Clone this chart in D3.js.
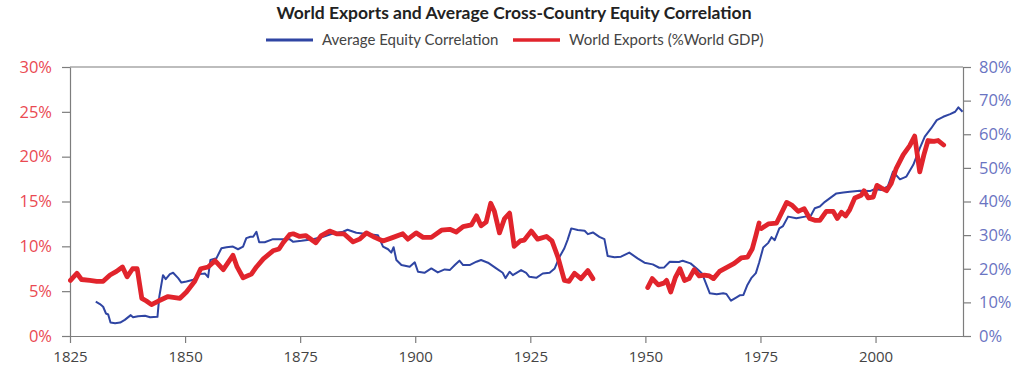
<!DOCTYPE html>
<html>
<head>
<meta charset="utf-8">
<script src="https://cdn.jsdelivr.net/npm/d3@7"></script>
<style>
  body { margin: 0; background: #fff; }
  svg { display: block; }
</style>
</head>
<body>
<svg></svg>
<script>
// World exports, % of world GDP (left axis); null = break in the line
let exportYears = [
  1825.1, 1826.5, 1827.5, 1829.3, 1830.8, 1832.2, 1833.7, 1835.1, 1836.4, 1837.4,
  1838.6, 1839.6, 1840.6, 1841.6, 1842.7, 1844.2, 1846.3, 1848.9, 1850.3, 1852.1,
  1853.4, 1855, 1856.5, 1858.3, 1860.4, 1861.3, 1862.6, 1864.4, 1865.5, 1867,
  1869.1, 1870.4, 1871.3, 1872.7, 1873.5, 1874.9, 1876.2, 1878.4, 1879.6, 1881.4,
  1882.9, 1884.5, 1886.5, 1887.9, 1889.4, 1891.2, 1893, 1895.2, 1897.3, 1898.4,
  1900.2, 1901.7, 1903.5, 1905.7, 1907.5, 1908.9, 1910.4, 1912.2, 1913.3, 1914.3,
  1915.4, 1916.4, 1917.2, 1918.3, 1919.4, 1920.5, 1921.5, 1922.8, 1923.7, 1925.2,
  1926.6, 1928.5, 1929.7, 1931, 1932.4, 1933.4, 1934.6, 1936, 1937.5, 1938.6,
  1944,
  1950.5, 1951.5, 1952.8, 1954, 1954.6, 1955.5, 1956.5, 1957.5, 1958.5, 1959.5,
  1960.6, 1961.7, 1962.8, 1963.9, 1964.8, 1966.1, 1967.9, 1969.3, 1970.8, 1972.2,
  1973.2, 1974, 1974.7,
  1974.95,
  1975.2, 1976.7, 1978.5, 1980.7, 1981.8, 1983.2, 1984.5, 1985.7, 1986.8, 1987.9,
  1989.3, 1990.8, 1991.7, 1992.6, 1993.5, 1994.4, 1995.5, 1996.9, 1997.5, 1998.4,
  1999.5, 2000.3, 2001.3, 2002.4, 2003.4, 2004.5, 2006, 2007.4, 2008.5, 2009.6,
  2010.5, 2011.4, 2012.7, 2013.6, 2014.8
];
let exportValues = [
  6.2, 7.0, 6.3, 6.2, 6.1, 6.1, 6.8, 7.2, 7.7, 6.6,
  7.5, 7.5, 4.2, 3.9, 3.5, 3.9, 4.4, 4.2, 4.9, 6.1,
  7.5, 7.7, 8.4, 7.4, 9.0, 7.7, 6.5, 6.9, 7.7, 8.6,
  9.5, 9.7, 10.4, 11.3, 11.4, 11.1, 11.2, 10.4, 11.2, 11.7,
  11.4, 11.4, 10.5, 10.8, 11.5, 11.0, 10.6, 11.0, 11.4, 10.8,
  11.5, 11.0, 11.0, 11.8, 11.9, 11.6, 12.2, 12.4, 13.4, 12.3,
  12.7, 14.8, 13.9, 11.5, 13.1, 13.7, 10.0, 10.6, 10.7, 11.7,
  10.8, 11.1, 10.6, 8.8, 6.2, 6.1, 7.0, 6.4, 7.3, 6.4,
  null,
  5.4, 6.4, 5.7, 5.9, 6.2, 4.9, 6.5, 7.5, 6.2, 6.4,
  7.4, 6.7, 6.8, 6.7, 6.4, 7.2, 7.7, 8.1, 8.7, 8.8,
  9.7, 11.2, 12.6,
  null,
  12.0, 12.5, 12.6, 14.9, 14.6, 13.9, 14.2, 13.1, 12.9, 12.9,
  13.9, 13.9, 13.1, 13.8, 13.4, 14.1, 15.4, 15.7, 16.2, 15.4,
  15.5, 16.8, 16.5, 16.2, 17.0, 18.7, 20.2, 21.2, 22.3, 18.3,
  20.2, 21.8, 21.7, 21.8, 21.3
];

// Average cross-country equity correlation, % (right axis)
let corrYears = [
  1830.6, 1831.5, 1832.2, 1832.8, 1833.3, 1833.8, 1834.8, 1835.9, 1836.9, 1838.2,
  1838.7, 1839.8, 1841.3, 1842.4, 1844, 1844.4, 1845.2, 1845.8, 1846.7, 1847.4,
  1848.5, 1849.2, 1850.3, 1851.8, 1853.2, 1854.3, 1855, 1855.5, 1856.8, 1857.9,
  1859, 1860.4, 1861.5, 1862.6, 1863.3, 1864.2, 1864.8, 1865.5, 1866.1, 1867.3,
  1869.1, 1871.3, 1872.7, 1873.5, 1875.3, 1877.8, 1880, 1882.1, 1884.3, 1885.3,
  1887.2, 1889.4, 1891.9, 1893, 1894.1, 1894.8, 1895.3, 1895.9, 1897, 1898.8,
  1899.9, 1900.6, 1902, 1903.5, 1904.9, 1906.4, 1907.5, 1908.6, 1909.6, 1910.4,
  1911.8, 1913.3, 1914.3, 1915.8, 1917.6, 1919, 1919.6, 1920.5, 1921.2, 1923,
  1924.1, 1924.8, 1926.3, 1927.7, 1929.2, 1930.3, 1931.3, 1932.4, 1933.1, 1933.9,
  1935.3, 1936.8, 1937.5, 1938.6, 1940, 1941.1, 1941.8, 1943.3, 1944.7, 1946.5,
  1948.3, 1949.8, 1951.6, 1953, 1954.1, 1955.3, 1957.3, 1958.1, 1959.8, 1961.2,
  1962.3, 1963, 1964, 1965.5, 1966.9, 1967.6, 1968.6, 1969.8, 1970.5, 1971.3,
  1972.1, 1973, 1974, 1974.7, 1975.6, 1976.7, 1977.4, 1978.1, 1979.1, 1979.9,
  1981, 1982.8, 1984.7, 1985.9, 1986.8, 1987.9, 1989, 1990.1, 1991.5, 1993,
  1994.4, 1996.6, 1998.8, 1999.8, 2001.3, 2002.7, 2003.8, 2005.3, 2006.7, 2008.2,
  2009.6, 2010.7, 2012.1, 2013.3, 2014.7, 2016.2, 2017.3, 2018, 2018.9
];
let corrValues = [
  10.2, 9.5, 8.7, 6.7, 6.4, 4.0, 3.8, 4.0, 4.8, 6.2,
  5.6, 5.9, 6.0, 5.6, 5.7, 11.7, 18.1, 16.9, 18.4, 18.8,
  17.2, 15.9, 16.2, 16.7, 18.4, 18.6, 17.5, 22.6, 23.1, 26.1,
  26.4, 26.6, 25.8, 26.6, 29.1, 29.5, 29.5, 31.0, 27.9, 27.9,
  28.8, 28.8, 28.8, 28.0, 28.3, 28.8, 29.5, 30.5, 31.0, 31.6,
  30.7, 30.3, 30.0, 26.6, 25.8, 24.8, 26.4, 22.6, 21.1, 20.6,
  21.9, 19.1, 18.8, 20.1, 18.9, 19.8, 19.6, 21.1, 22.4, 21.1,
  21.1, 22.1, 22.6, 21.8, 20.1, 18.8, 17.2, 19.1, 18.1, 19.6,
  18.8, 17.6, 17.3, 18.6, 18.8, 20.1, 23.4, 26.1, 28.6, 32.0,
  31.5, 31.3, 30.3, 30.8, 29.5, 28.8, 23.8, 23.4, 23.6, 24.8,
  23.1, 21.8, 21.3, 20.3, 20.4, 22.1, 22.0, 22.4, 21.6, 20.0,
  18.6, 16.2, 12.7, 12.4, 12.7, 12.5, 10.5, 11.5, 12.1, 12.2,
  15.0, 17.2, 18.7, 21.8, 26.3, 27.7, 29.4, 28.5, 32.0, 32.7,
  35.5, 35.0, 35.5, 35.7, 38.0, 38.5, 39.9, 41.0, 42.4, 42.7,
  42.9, 43.2, 43.1, 43.7, 43.4, 44.6, 48.9, 46.6, 47.4, 50.9,
  55.8, 59.3, 61.8, 64.2, 65.2, 66.0, 66.7, 68.0, 66.7
];

let xTicks = [1825, 1850, 1875, 1900, 1925, 1950, 1975, 2000];
let leftTicks = [0, 5, 10, 15, 20, 25, 30];
let rightTicks = [0, 10, 20, 30, 40, 50, 60, 70, 80];

let width = 1024;
let height = 370;
let plotLeft = 70;
let plotRight = 963;
let plotTop = 67;
let plotBottom = 336;

let blue = "#2f45a3";
let red = "#e1242c";
let axisGray = "#7d7d7d";

let svg = d3.select("svg").attr("width", width).attr("height", height);

let xScale = d3.scaleLinear().domain([1825, 2019]).range([plotLeft, plotRight]);
let yLeft = d3.scaleLinear().domain([0, 30]).range([plotBottom, plotTop]);
let yRight = d3.scaleLinear().domain([0, 80]).range([plotBottom, plotTop]);

// title + legend
svg.append("text")
  .attr("x", 514).attr("y", 19)
  .attr("text-anchor", "middle")
  .style("font-family", "Lato")
  .style("font-weight", "700")
  .style("font-size", "17.5px")
  .style("fill", "#222")
  .text("World Exports and Average Cross-Country Equity Correlation");

let legend = [
  { name: "Average Equity Correlation", color: blue, x: 266, w: 3 },
  { name: "World Exports (%World GDP)", color: red, x: 513, w: 3.5 },
];
legend.forEach((item) => {
  svg.append("line")
    .attr("x1", item.x).attr("x2", item.x + 47)
    .attr("y1", 40).attr("y2", 40)
    .attr("stroke", item.color)
    .attr("stroke-width", item.w);
  svg.append("text")
    .attr("x", item.x + 56).attr("y", 45)
    .style("font-family", "Lato")
    .style("font-size", "15px")
    .style("fill", "#444")
    .text(item.name);
});

// frame top line
svg.append("line")
  .attr("x1", plotLeft).attr("x2", plotRight)
  .attr("y1", plotTop).attr("y2", plotTop)
  .attr("stroke", axisGray).attr("stroke-width", 1.2);

let xAxis = d3.axisBottom(xScale)
  .tickValues(xTicks)
  .tickFormat(d3.format("d"))
  .tickSize(7).tickSizeOuter(0).tickPadding(8);

let leftAxis = d3.axisLeft(yLeft)
  .tickValues(leftTicks)
  .tickFormat((d) => d + "%")
  .tickSize(8).tickSizeOuter(0).tickPadding(10);

let rightAxis = d3.axisRight(yRight)
  .tickValues(rightTicks)
  .tickFormat((d) => d + "%")
  .tickSize(8).tickSizeOuter(0).tickPadding(8);

let styleAxis = (g, color, size) => {
  g.selectAll("path, line").attr("stroke", axisGray).attr("stroke-width", 1.2);
  g.selectAll("text")
    .style("font-family", "Open Sans")
    .style("font-size", size)
    .attr("fill", color);
};

svg.append("g")
  .attr("transform", "translate(0," + plotBottom + ")")
  .call(xAxis)
  .call((g) => styleAxis(g, "#444", "15px"));

svg.append("g")
  .attr("transform", "translate(" + plotLeft + ",0)")
  .call(leftAxis)
  .call((g) => styleAxis(g, "#ea4a52", "16.5px"));

svg.append("g")
  .attr("transform", "translate(" + plotRight + ",0)")
  .call(rightAxis)
  .call((g) => styleAxis(g, "#6a74c2", "16.5px"));

// lines
let corrData = corrYears.map((year, i) => ({ year: year, value: corrValues[i] }));
let exportData = exportYears.map((year, i) => ({ year: year, value: exportValues[i] }));

let corrLine = d3.line()
  .x((d) => xScale(d.year))
  .y((d) => yRight(d.value));

let exportLine = d3.line()
  .defined((d) => d.value !== null)
  .x((d) => xScale(d.year))
  .y((d) => yLeft(d.value));

svg.append("path")
  .datum(corrData)
  .attr("d", corrLine)
  .attr("fill", "none")
  .attr("stroke", blue)
  .attr("stroke-width", 2)
  .attr("stroke-linejoin", "round");

svg.append("path")
  .datum(exportData)
  .attr("d", exportLine)
  .attr("fill", "none")
  .attr("stroke", red)
  .attr("stroke-width", 4.8)
  .attr("stroke-linejoin", "round")
  .attr("stroke-linecap", "round");
</script>
</body>
</html>
